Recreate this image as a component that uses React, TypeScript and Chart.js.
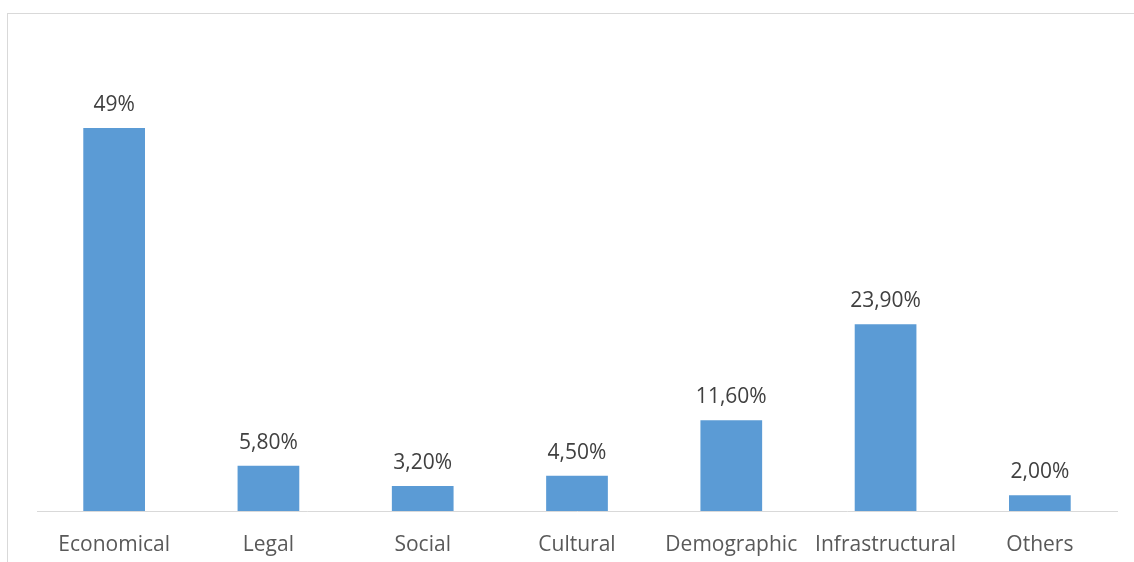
import React, { useEffect, useRef } from "react";
import { Chart, registerables } from "chart.js";

Chart.register(...registerables);

const categories = ["Economical", "Legal", "Social", "Cultural", "Demographic", "Infrastructural", "Others"];
const values = [49, 5.8, 3.2, 4.5, 11.6, 23.9, 2.0];
const valueLabels = ["49%", "5,80%", "3,20%", "4,50%", "11,60%", "23,90%", "2,00%"];

const FONT = "'Open Sans', 'Noto Sans', sans-serif";

const labelPlugin = {
  id: "valueLabels",
  afterDatasetsDraw(chart: any) {
    const ctx = chart.ctx;
    const meta = chart.getDatasetMeta(0);
    ctx.save();
    ctx.fillStyle = "#404040";
    ctx.font = `21px ${FONT}`;
    ctx.textAlign = "center";
    ctx.textBaseline = "middle";
    meta.data.forEach((bar: any, i: number) => {
      ctx.fillText(valueLabels[i], bar.x, bar.y - 23);
    });
    ctx.restore();
  },
};

export default function App() {
  const ref = useRef<HTMLCanvasElement>(null);
  useEffect(() => {
    if (!ref.current) return;
    const chart = new Chart(ref.current, {
      type: "bar",
      data: {
        labels: categories,
        datasets: [
          {
            data: values,
            backgroundColor: "#5B9BD5",
            categoryPercentage: 1,
            barPercentage: 0.4,
          },
        ],
      },
      options: {
        animation: false,
        responsive: false,
        maintainAspectRatio: false,
        layout: { padding: { top: 42, left: 37, right: 17, bottom: 0 } },
        plugins: { legend: { display: false }, tooltip: { enabled: false } },
        scales: {
          x: {
            grid: { display: false, drawTicks: false },
            border: { display: true, color: "#D9D9D9", width: 1 },
            ticks: { color: "#595959", font: { family: FONT, size: 21 }, padding: 21, maxRotation: 0, autoSkip: false },
            afterFit: (scale: any) => {
              scale.height = 51;
            },
          },
          y: { display: false, min: 0, max: 60 },
        },
      },
      plugins: [labelPlugin],
    });
    return () => chart.destroy();
  }, []);
  return (
    <div style={{ position: "fixed", left: 0, top: 0, width: 1134, height: 562, overflow: "hidden", background: "#fff" }}>
      <div style={{ position: "absolute", left: 7, top: 13, width: 1200, height: 700, border: "1px solid #D9D9D9" }} />
      <canvas ref={ref} width={1134} height={562} style={{ position: "absolute", left: 0, top: 0 }} />
    </div>
  );
}
